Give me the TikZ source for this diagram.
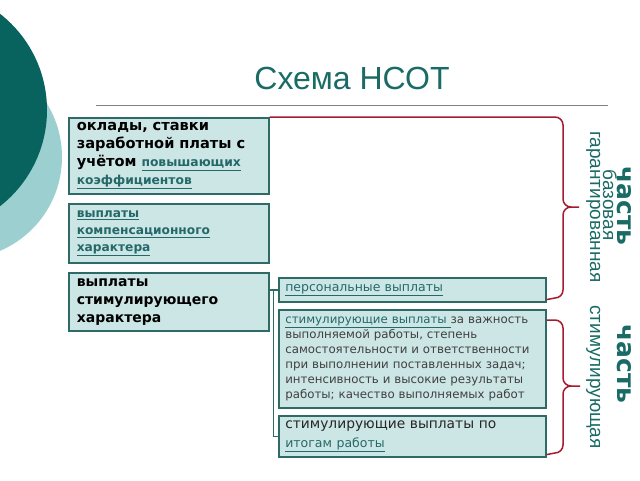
\documentclass[tikz,border=0pt]{standalone}
\usepackage{fontspec}
\setmainfont{DejaVu Sans}
\newfontfamily\arialfont{Liberation Sans}
\usetikzlibrary{calc}
\definecolor{circdark}{RGB}{8,99,94}
\definecolor{circlight}{RGB}{156,207,208}
\definecolor{boxfill}{RGB}{204,230,229}
\definecolor{boxline}{RGB}{47,107,102}
\definecolor{titleteal}{RGB}{26,107,102}
\definecolor{linkteal}{RGB}{37,104,106}
\definecolor{bracered}{RGB}{165,28,48}
\definecolor{bodygray}{RGB}{64,64,64}
\newcommand\lnk[1]{\textcolor{linkteal}{\underline{#1}}}
\tikzset{
  box/.style={draw=boxline, line width=1.6pt, fill=boxfill, anchor=north west,
    inner xsep=8pt, inner ysep=2pt, align=left},
  rbox/.style={box, inner xsep=6pt},
  link/.style={draw=boxline, line width=1.5pt},
  brace/.style={draw=bracered, line width=1.5pt},
  rot/.style={rotate=-90, anchor=base, inner sep=0pt, text=titleteal}
}
\begin{document}
\begin{tikzpicture}[x=1pt, y=-1pt]
  \useasboundingbox (0,0) rectangle (640,480);
  \clip (0,0) rectangle (640,480);
  \fill[circlight] (-40,157) circle (102);
  \fill[circdark] (-75,110) circle (122);
  \node[font=\arialfont\fontsize{32}{36}\selectfont, text=titleteal] (title) at (352,78) {Схема НСОТ};
  \draw[gray, line width=0.8pt] (96,105) -- (608,105);

  \node[box, minimum width=199, minimum height=76, text width=184,
    font=\bfseries\fontsize{14.6}{18}\selectfont] (okl) at (68,117)
    {оклады, ставки\\ заработной платы с\\ учётом {\fontsize{12.3}{18}\selectfont\lnk{повышающих}}\\
     {\fontsize{12.3}{18}\selectfont\lnk{коэффициентов}}};
  \node[box, minimum width=199, minimum height=59, text width=184,
    font=\bfseries\fontsize{12.2}{17}\selectfont] (komp) at (68,203)
    {\lnk{выплаты}\\ \lnk{компенсационного}\\ \lnk{характера}};
  \node[box, minimum width=199, minimum height=58, text width=184,
    font=\bfseries\fontsize{14}{18}\selectfont] (stim) at (68,272)
    {выплаты\\ стимулирующего\\ характера};

  \node[rbox, minimum width=267, minimum height=24, text width=254,
    font=\fontsize{12.5}{15}\selectfont] (pers) at (278,277)
    {\lnk{персональные выплаты}};
  \node[rbox, minimum width=267, minimum height=98, text width=254,
    font=\fontsize{11.8}{15}\selectfont, text=bodygray] (vazh) at (278,309)
    {\lnk{стимулирующие выплаты }за важность\\ выполняемой работы, степень\\
     самостоятельности и ответственности\\ при выполнении поставленных задач;\\
     интенсивность и высокие результаты\\ работы; качество выполняемых работ};
  \node[rbox, minimum width=267, minimum height=41, text width=254,
    font=\fontsize{13.8}{19}\selectfont, text=black!85] (itog) at (278,415)
    {стимулирующие выплаты по\\ {\fontsize{12.5}{19}\selectfont\lnk{итогам работы}}};

  \coordinate (fork) at ($(stim.east |- pers.west)+(4,0)$);
  \draw[link] (stim.east |- pers.west) -- (pers.west);
  \draw[link] (fork) |- (itog.west);

  \draw[brace] (okl.north east) -- (555,117) to[out=0,in=90] (563,125) -- (563,199)
    to[out=-90,in=180] (571,207) -- (579,207);
  \draw[brace] (571,207) to[out=180,in=90] (563,215) -- (563,290)
    to[out=-90,in=0] (555,298) -- ($(pers.south east)+(0,-3)$);
  \draw[brace] ($(vazh.north east)+(0,11)$) -- (555,320) to[out=0,in=90] (563,328) -- (563,378)
    to[out=-90,in=180] (571,386) -- (580,386);
  \draw[brace] (571,386) to[out=180,in=90] (563,394) -- (563,445)
    to[out=-90,in=0] (555,453) -- ($(itog.south east)+(0,-3)$);

  \node[rot, font=\bfseries\fontsize{25}{25}\selectfont] (chast1) at (617,206) {часть};
  \node[rot, font=\arialfont\fontsize{19}{19}\selectfont] (baz) at (603,205) {базовая};
  \node[rot, font=\arialfont\fontsize{19}{19}\selectfont] (gar) at (590,207) {гарантированная};
  \node[rot, font=\bfseries\fontsize{25}{25}\selectfont] (chast2) at (617,364) {часть};
  \node[rot, font=\arialfont\fontsize{19}{19}\selectfont] (stimul) at (590,377) {стимулирующая};
\end{tikzpicture}
\end{document}
